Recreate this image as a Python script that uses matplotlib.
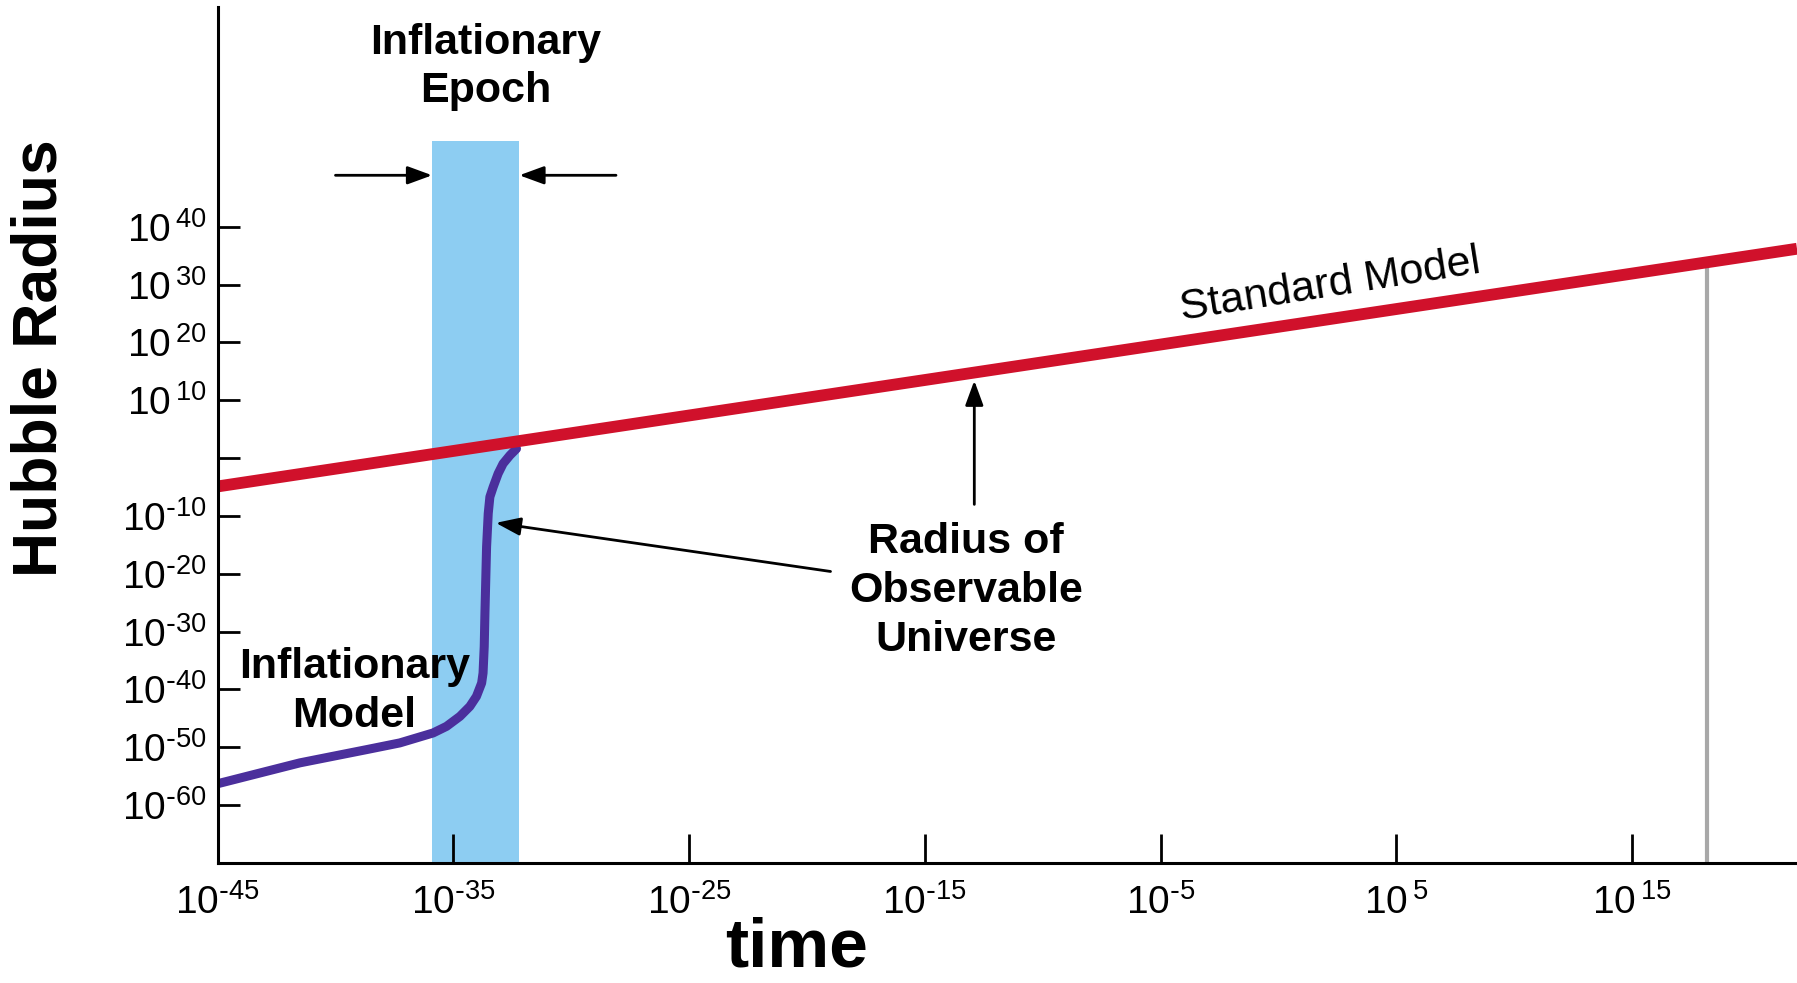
import numpy as np
import matplotlib
matplotlib.use("Agg")
import matplotlib.pyplot as plt
from matplotlib.ticker import FixedLocator, FuncFormatter

plt.rcParams['font.family'] = ['Liberation Sans', 'DejaVu Sans']
plt.rcParams['mathtext.default'] = 'regular'

# log10 of time [s] and log10 of Hubble radius
std_logt = [-45.0, 22.0]
std_logR = [-4.9, 36.2]

infl_logt = [-45.0, -41.51, -38.68, -37.27, -35.86, -35.29, -34.72, -34.30,
             -34.02, -33.80, -33.74, -33.69, -33.66, -33.59, -33.52, -33.45,
             -33.31, -33.10, -32.89, -32.60, -32.32]
infl_logR = [-56.3, -52.69, -50.40, -49.24, -47.52, -46.38, -44.65, -42.93,
             -41.20, -38.89, -37.17, -32.58, -26.82, -15.34, -9.58, -6.71,
             -4.99, -2.68, -0.96, 0.48, 1.63]

epoch_logt = [-35.9, -32.2]
epoch_top = 54.8

now_logt = 18.2
now_logR = 33.9

xticks = [-45, -35, -25, -15, -5, 5, 15]
yticks = [-60, -50, -40, -30, -20, -10, 0, 10, 20, 30, 40]

RED = '#d0112b'
PURPLE = '#4b2f9c'
BAND = '#8dcdf2'

fig = plt.figure(figsize=(17.97, 9.83), dpi=100)
ax = fig.add_axes([0.1211, 0.1221, 0.8789, 0.8708])
ax.set_xscale('log')
ax.set_yscale('log')
ax.set_xlim(10.0 ** -45, 10.0 ** 22)
ax.set_ylim(10.0 ** -70, 10.0 ** 78)

# inflationary epoch band
ax.fill_between(10.0 ** np.array(epoch_logt), 10.0 ** -70, 10.0 ** epoch_top,
                color=BAND, lw=0, zorder=1)

# present-day marker
ax.plot([10.0 ** now_logt] * 2, [10.0 ** -70, 10.0 ** now_logR],
        color='#a8a8a8', lw=3, zorder=2)

ax.plot(10.0 ** np.array(std_logt), 10.0 ** np.array(std_logR),
        color=RED, lw=8.5, solid_capstyle='butt', zorder=4)
ax.plot(10.0 ** np.array(infl_logt), 10.0 ** np.array(infl_logR),
        color=PURPLE, lw=6.5, solid_joinstyle='round', solid_capstyle='round',
        zorder=3)

arrow = dict(arrowstyle='-|>,head_length=0.6,head_width=0.22', color='black',
             lw=2, shrinkA=0, shrinkB=0, mutation_scale=25)


def p(lt, lr):
    return (10.0 ** lt, 10.0 ** lr)


ax.annotate('', xy=p(-35.9, 48.9), xytext=p(-40.0, 48.9), arrowprops=arrow,
            annotation_clip=False)
ax.annotate('', xy=p(-32.2, 48.9), xytext=p(-28.1, 48.9), arrowprops=arrow,
            annotation_clip=False)
ax.annotate('', xy=p(-12.9, 13.4), xytext=p(-12.9, -8.0), arrowprops=arrow)
ax.annotate('', xy=p(-33.2, -11.2), xytext=p(-19.0, -19.6), arrowprops=arrow)

bold = dict(fontsize=31, fontweight='bold', ha='center', va='center',
            linespacing=1.28, zorder=6)
ax.text(*p(-33.62, 67.6), 'Inflationary\nEpoch', **bold)
ax.text(*p(-39.2, -40.3), 'Inflationary\nModel', **bold)
ax.text(*p(-13.26, -23.0), 'Radius of\nObservable\nUniverse', **bold)
ax.text(*p(2.2, 29.8), 'Standard Model', fontsize=31, rotation=9,
        ha='center', va='center', zorder=6)

for side in ('top', 'right'):
    ax.spines[side].set_visible(False)
for side in ('left', 'bottom'):
    ax.spines[side].set_linewidth(2.2)
    ax.spines[side].set_color('black')
    ax.spines[side].set_zorder(5)

ax.minorticks_off()
ax.xaxis.set_major_locator(FixedLocator([10.0 ** v for v in xticks]))
ax.yaxis.set_major_locator(FixedLocator([10.0 ** v for v in yticks]))


def exp_label(v, pos):
    e = int(round(np.log10(v)))
    if e == 0:
        return ''
    if e < 0:
        return r'$10^{\text{-}%d}$' % -e
    return r'$10^{\,%d}$' % e


ax.xaxis.set_major_formatter(FuncFormatter(exp_label))
ax.yaxis.set_major_formatter(FuncFormatter(exp_label))
ax.tick_params(axis='x', direction='in', length=21, width=2, pad=15,
               labelsize=28)
ax.tick_params(axis='y', direction='in', length=16, width=2, pad=8,
               labelsize=28)

fig.text(0.0223, 0.636, 'Hubble Radius', rotation=90, fontsize=45,
         fontweight='bold', ha='center', va='center')
fig.text(0.4432, 0.0346, 'time', fontsize=50, fontweight='bold',
         ha='center', va='center')

fig.savefig('out.png', dpi=100)
